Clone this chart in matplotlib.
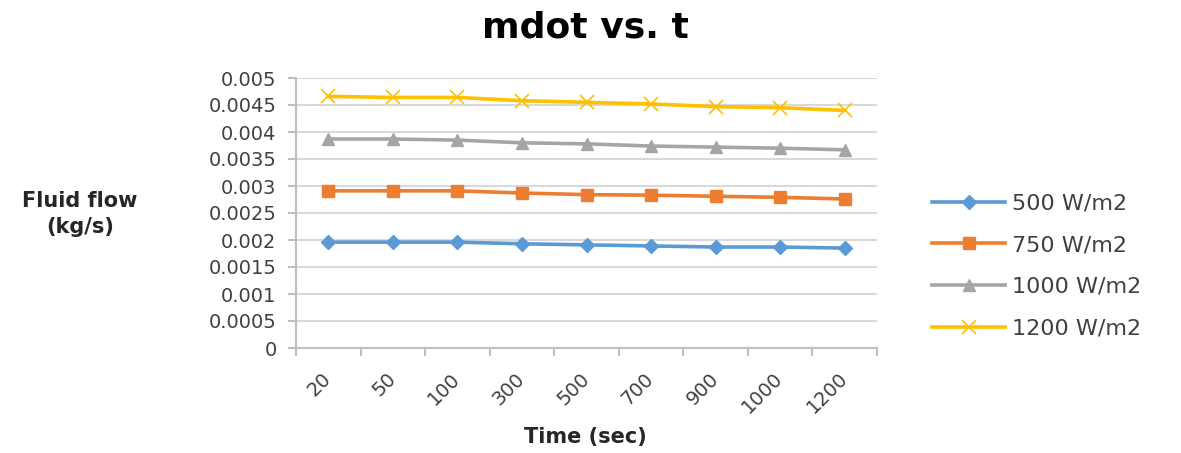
import matplotlib
matplotlib.use("Agg")
import matplotlib.pyplot as plt
import numpy as np

plt.rcParams['font.family'] = ['DejaVu Sans']

times = ["20", "50", "100", "300", "500", "700", "900", "1000", "1200"]
mdot_500 = [0.00196, 0.00196, 0.00196, 0.00193, 0.00191, 0.00189, 0.00187, 0.00187, 0.00185]
mdot_750 = [0.00291, 0.00291, 0.00291, 0.00287, 0.00284, 0.00283, 0.00281, 0.00279, 0.00276]
mdot_1000 = [0.00387, 0.00387, 0.00385, 0.00380, 0.00378, 0.00374, 0.00372, 0.00370, 0.00367]
mdot_1200 = [0.00466, 0.00464, 0.00464, 0.00458, 0.00455, 0.00452, 0.00447, 0.00445, 0.00440]
series_labels = ["500 W/m2", "750 W/m2", "1000 W/m2", "1200 W/m2"]
ytick_labels = ["0", "0.0005", "0.001", "0.0015", "0.002", "0.0025", "0.003",
                "0.0035", "0.004", "0.0045", "0.005"]

fig = plt.figure(figsize=(11.81, 4.53), dpi=100)
ax = fig.add_axes([296/1181, 1-348/453, (877-296)/1181, (348-78)/453])

x = np.arange(len(times))
ax.plot(x, mdot_500, color="#5B9BD5", lw=2.6, marker="D", ms=7, label=series_labels[0])
ax.plot(x, mdot_750, color="#ED7D31", lw=2.6, marker="s", ms=9, label=series_labels[1])
ax.plot(x, mdot_1000, color="#A5A5A5", lw=2.6, marker="^", ms=9, label=series_labels[2])
ax.plot(x, mdot_1200, color="#FFC000", lw=2.6, marker="x", ms=10, mew=1.2, label=series_labels[3])

ax.set_xlim(-0.5, len(times) - 0.5)
ax.set_ylim(0, 0.005)
ax.set_yticks(np.linspace(0, 0.005, 11))
ax.set_yticklabels(ytick_labels, fontsize=14, color="#404040")
ax.set_xticks(x)
ax.set_xticklabels(times, rotation=45, ha="right", va="center", rotation_mode="anchor",
                   fontsize=14, color="#404040")
ax.tick_params(axis="x", which="major", length=0, pad=20)
ax.set_xticks(np.arange(-0.5, len(times)), minor=True)
ax.tick_params(axis="x", which="minor", length=6, color="#BFBFBF", width=1.5)
ax.tick_params(axis="y", length=6, color="#BFBFBF", width=1.5, pad=8)

ax.grid(axis="y", color="#D9D9D9", lw=1.5)
ax.set_axisbelow(True)
for s in ["top", "right"]:
    ax.spines[s].set_visible(False)
for s in ["left", "bottom"]:
    ax.spines[s].set_color("#BFBFBF")
    ax.spines[s].set_linewidth(1.5)

fig.text(585/1181, 1-28/453, "mdot vs. t", fontsize=26, fontweight="bold",
         ha="center", va="center", color="#000000")
fig.text(80/1181, 1-214/453, "Fluid flow\n(kg/s)", fontsize=15, fontweight="bold",
         ha="center", va="center", color="#262626", linespacing=1.35)
fig.text(585/1181, 1-437/453, "Time (sec)", fontsize=15, fontweight="bold",
         ha="center", va="center", color="#262626")

leg = fig.legend(loc="center left", bbox_to_anchor=(912/1181, 1-266/453), frameon=False,
                 fontsize=16, handlelength=3.3, labelspacing=0.98, handletextpad=0.3,
                 labelcolor="#404040")

fig.savefig("out.png", dpi=100)
